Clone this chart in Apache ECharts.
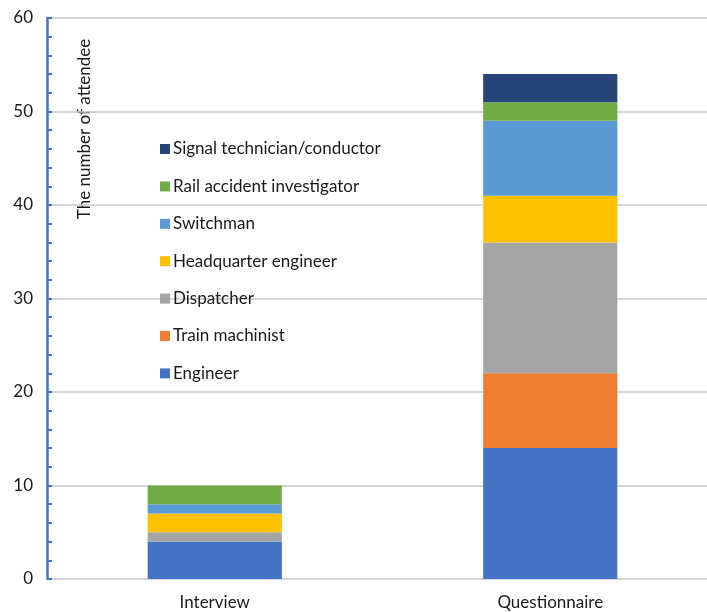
<!DOCTYPE html>
<html><head><meta charset="utf-8">
<script src="https://cdn.jsdelivr.net/npm/echarts@6/dist/echarts.min.js"></script>
<style>html,body{margin:0;padding:0;background:#fff}#c{width:707px;height:612px}</style>
</head><body><div id="c"></div>
<script>
const categories = ['Interview', 'Questionnaire'];
const engineer = [4, 14];
const trainMachinist = [0, 8];
const dispatcher = [1, 14];
const headquarterEngineer = [2, 5];
const switchman = [1, 8];
const railAccidentInvestigator = [2, 2];
const signalTechnician = [0, 3];
const seriesNames = ['Engineer','Train machinist','Dispatcher','Headquarter engineer','Switchman','Rail accident investigator','Signal technician/conductor'];
const seriesValues = [engineer, trainMachinist, dispatcher, headquarterEngineer, switchman, railAccidentInvestigator, signalTechnician];
const colors = ['#4472C4','#ED7D31','#A5A5A5','#FFC000','#5B9BD5','#70AD47','#264478'];
const yTicks = [0, 10, 20, 30, 40, 50, 60];
const yName = 'The number of attendee';

const font = 'Lato, "Open Sans", sans-serif';
const chart = echarts.init(document.getElementById('c'));
chart.setOption({
  animation: false,
  color: colors,
  textStyle: { fontFamily: font },
  grid: { left: 47, top: 18, width: 671, height: 561, containLabel: false, outerBoundsMode: 'none' },
  legend: {
    orient: 'vertical', left: 155, top: 135,
    itemWidth: 10, itemHeight: 10, itemGap: 19.4,
    icon: 'rect',
    textStyle: { fontFamily: font, fontSize: 17, color: '#1a1a1a', lineHeight: 18, padding: [0,0,0,-2] },
    data: seriesNames.slice().reverse()
  },
  xAxis: {
    type: 'category', data: categories,
    axisLine: { show: false }, axisTick: { show: false },
    axisLabel: { fontFamily: font, fontSize: 17, color: '#1a1a1a', margin: 15 }
  },
  yAxis: {
    type: 'value', min: yTicks[0], max: yTicks[yTicks.length-1], interval: 10,
    axisLine: { show: true, lineStyle: { color: '#4472C4', width: 2.5 } },
    axisTick: { show: true, inside: true, length: 5, lineStyle: { color: '#4472C4', width: 2 } },
    minorTick: { show: true, splitNumber: 5, length: 5, lineStyle: { color: '#4472C4', width: 2 } },
    axisLabel: { fontFamily: font, fontSize: 17, color: '#1a1a1a', margin: 14 },
    splitLine: { show: true, lineStyle: { color: '#c8c8c8', width: 1.5 } }
  },
  graphic: [{
    type: 'text', x: 85, y: 129, rotation: Math.PI/2,
    style: { text: yName, fontFamily: font, fontSize: 17, fill: '#1a1a1a', align: 'center', verticalAlign: 'middle' }
  }],
  series: seriesNames.map((n, i) => ({
    name: n, type: 'bar', stack: 'total', barWidth: '40%',
    data: seriesValues[i],
    itemStyle: { color: colors[i] }
  }))
});
</script></body></html>
